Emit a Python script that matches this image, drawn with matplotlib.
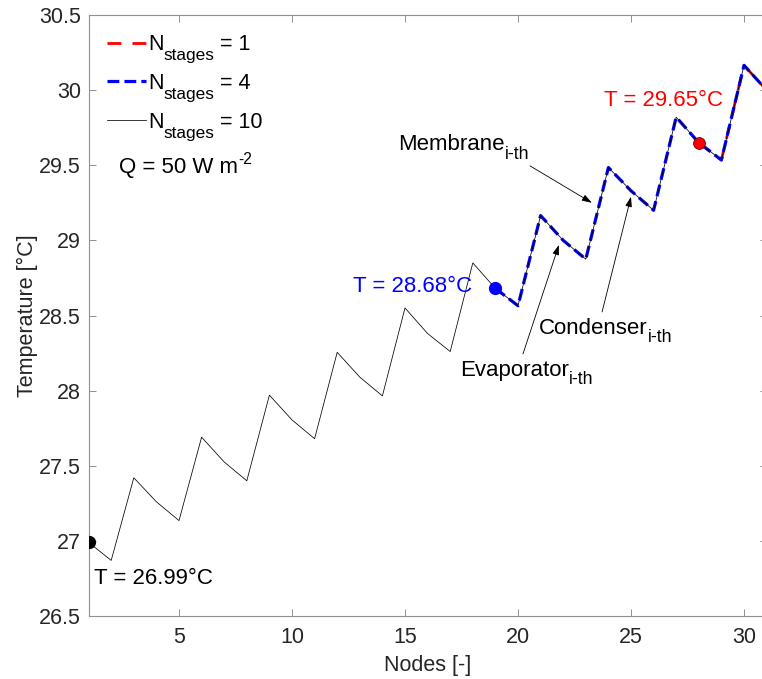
import matplotlib
matplotlib.use("Agg")
import matplotlib.pyplot as plt
from matplotlib.ticker import FormatStrFormatter, MultipleLocator

plt.rcParams['font.family'] = ['Liberation Sans', 'DejaVu Sans']
plt.rcParams['mathtext.fontset'] = 'custom'
plt.rcParams['mathtext.rm'] = 'Liberation Sans'
plt.rcParams['mathtext.it'] = 'Liberation Sans'
plt.rcParams['mathtext.default'] = 'regular'

# ---- data ----
nodes_10 = list(range(1, 32))
temp_10 = [26.99, 26.87, 27.42, 27.26, 27.135, 27.69, 27.525, 27.40, 27.97, 27.805,
           27.68, 28.255, 28.09, 27.965, 28.55, 28.38, 28.26, 28.85, 28.68, 28.565,
           29.165, 29.00, 28.875, 29.485, 29.33, 29.20, 29.82, 29.65, 29.535, 30.165,
           30.00]
nodes_4 = list(range(19, 32))
temp_4 = [28.68, 28.565, 29.165, 29.00, 28.875, 29.485, 29.33, 29.20, 29.82, 29.65,
          29.535, 30.165, 30.00]
nodes_1 = list(range(28, 32))
temp_1 = [29.65, 29.535, 30.165, 30.00]

legend_values = ['1', '4', '10']
start_x = [28, 19, 1]
start_y = [29.65, 28.68, 26.99]
start_txt = ['T = 29.65°C', 'T = 28.68°C', 'T = 26.99°C']

FS = 16      # annotation text
FT = 15.5    # tick / axis labels
FL = 15.5    # legend
SUBF = 0.8   # subscript scale


def chain_sub(prev, sub, size, drop_pt, color='black', z=7):
    """Place subscript text after 'prev' artist, lowered by drop_pt (points)."""
    return prev.axes.annotate(sub, xy=(1, 0), xycoords=prev, xytext=(0, -drop_pt),
                              textcoords='offset points', ha='left', va='bottom',
                              fontsize=size, color=color, zorder=z,
                              annotation_clip=False)


def chain_back(prev, txt, size, rise_pt, color='black', z=8):
    return prev.axes.annotate(txt, xy=(1, 0), xycoords=prev, xytext=(0, rise_pt),
                              textcoords='offset points', ha='left', va='bottom',
                              fontsize=size, color=color, zorder=z,
                              annotation_clip=False)


fig = plt.figure(figsize=(7.62, 6.79), dpi=100)
ax = fig.add_axes([88.6/762, 63/679, 678/762, 601/679])

l1, = ax.plot(nodes_1, temp_1, color='red', ls=(0, (5, 4)), lw=2.0)
l4, = ax.plot(nodes_4, temp_4, color='#0000ff', ls='--', lw=2.3)
l10, = ax.plot(nodes_10, temp_10, color='black', ls='-', lw=0.55)

ax.plot(start_x[2], start_y[2], 'o', color='black', ms=8.5, zorder=5)
ax.plot(start_x[1], start_y[1], 'o', color='#0000ff', ms=8.5, zorder=5)
ax.plot(start_x[0], start_y[0], 'o', color='red', mec='#600000', mew=0.6, ms=8.5, zorder=5)

ax.text(29.07, 29.93, start_txt[0], color='red', fontsize=FS, ha='right', va='center')
ax.text(17.96, 28.69, start_txt[1], color='#0000ff', fontsize=FS, ha='right', va='center')
ax.text(1.24, 26.75, start_txt[2], color='black', fontsize=FS, ha='left', va='center')

# Q label with superscript
q = ax.text(2.35, 29.45, 'Q = 50 W m', fontsize=FS, ha='left', va='baseline')
chain_back(q, '-2', FS * 0.7, 8.0)

# annotations with subscripts
ap = dict(arrowstyle='-|>,head_length=0.6,head_width=0.2', lw=0.6, color='black',
          shrinkA=0, shrinkB=0)
for name, tx, ty, tail, tip in [
        ('Membrane', 14.69, 29.60, (20.53, 29.496), (23.27, 29.25)),
        ('Condenser', 20.93, 28.38, (23.72, 28.524), (25.0, 29.29)),
        ('Evaporator', 17.44, 28.10, (20.22, 28.244), (21.81, 28.97))]:
    t = ax.text(tx, ty, name, fontsize=FS, ha='left', va='baseline')
    chain_sub(t, 'i-th', FS * SUBF, 5.6)
    ax.annotate('', xy=tip, xytext=tail, arrowprops=ap)

ax.set_xlim(1, 31)
ax.set_ylim(26.5, 30.5)
ax.set_xticks([5, 10, 15, 20, 25, 30])
ax.yaxis.set_major_locator(MultipleLocator(0.5))
ax.yaxis.set_major_formatter(FormatStrFormatter('%g'))
ax.tick_params(direction='in', top=True, right=True, length=5, width=0.6,
               color='#808080', labelsize=FT, labelcolor='#262626')
ax.tick_params(axis='x', pad=8)
ax.tick_params(axis='y', pad=5.5)
for s in ax.spines.values():
    s.set_color('#909090')
    s.set_linewidth(0.8)
ax.set_xlabel('Nodes [-]', fontsize=FT, color='#262626', labelpad=5)
ax.set_ylabel('Temperature [°C]', fontsize=FT, color='#262626', labelpad=1)

# legend: main letter in legend, subscript and value chained after it
leg = ax.legend([l1, l4, l10], ['N'] * 3, loc='upper left', frameon=False,
                bbox_to_anchor=(0.0271, 0.968), borderaxespad=0, borderpad=0,
                handlelength=1.8, handletextpad=0.1, labelspacing=0.82,
                fontsize=FL)
for lt, v in zip(leg.get_texts(), legend_values):
    s = chain_sub(lt, 'stages', FL * SUBF, 5.8, z=7)
    chain_back(s, ' = ' + v, FL, 5.8, z=8)

fig.savefig('out.png', dpi=100)
